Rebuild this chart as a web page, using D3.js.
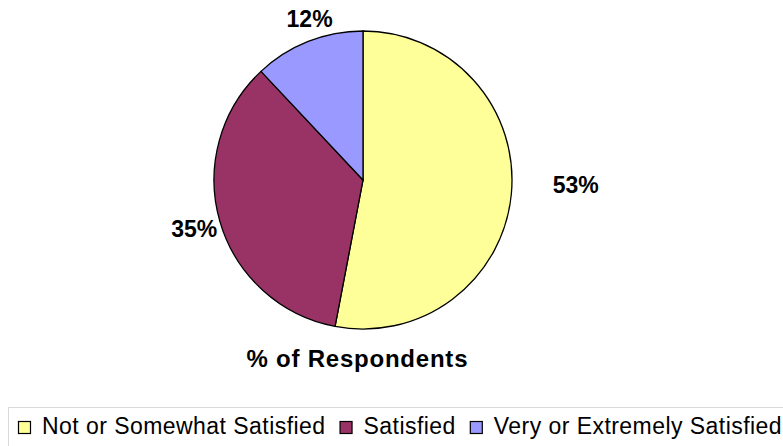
<!DOCTYPE html>
<html>
<head>
<meta charset="utf-8">
<script src="https://cdn.jsdelivr.net/npm/d3@7"></script>
<style>
  body { margin: 0; background: #fff; }
  svg { display: block; font-family: "Liberation Sans", Arial, sans-serif; }
</style>
</head>
<body>
<div id="chart"></div>
<script>
// Data
const categories = ['Not or Somewhat Satisfied', 'Satisfied', 'Very or Extremely Satisfied'];
const shares = [53, 35, 12];
const colors = ['#FFFF99', '#993366', '#9999FF'];
const chartTitle = '% of Respondents';

const width = 783;
const height = 446;
const cx = 363, cy = 180, radius = 149;

// where the value labels sit: radius factor + small nudge (Excel puts them where it likes)
const labelPlace = {
    'Not or Somewhat Satisfied': { k: 1.40, dx: 5, dy: -15 },
    'Satisfied': { k: 1.18, dx: 0, dy: 0 },
    'Very or Extremely Satisfied': { k: 1.12, dx: 8, dy: -6 }
};

const svg = d3.select('#chart')
    .append('svg')
    .attr('width', width)
    .attr('height', height);

const color = d3.scaleOrdinal().domain(categories).range(colors);

const pie = d3.pie()
    .sort(null)
    .value(d => d.value);

const data = categories.map((c, i) => ({ name: c, value: shares[i] }));
const arcs = pie(data);

const arc = d3.arc().innerRadius(0).outerRadius(radius);

const g = svg.append('g').attr('transform', `translate(${cx},${cy})`);

g.selectAll('path.slice')
    .data(arcs)
    .enter()
    .append('path')
    .attr('class', 'slice')
    .attr('d', arc)
    .attr('fill', d => color(d.data.name))
    .attr('stroke', '#000')
    .attr('stroke-width', 1.3);

// value labels outside the pie
g.selectAll('text.val')
    .data(arcs)
    .enter()
    .append('text')
    .attr('class', 'val')
    .attr('transform', d => {
        const a = (d.startAngle + d.endAngle) / 2;
        const p = labelPlace[d.data.name];
        const r = radius * p.k;
        return `translate(${Math.sin(a) * r + p.dx},${-Math.cos(a) * r + p.dy})`;
    })
    .attr('text-anchor', 'middle')
    .attr('dy', '0.35em')
    .style('font-size', '23px')
    .style('font-weight', 'bold')
    .text(d => d.value + '%');

// title under the pie
svg.append('text')
    .attr('x', 357)
    .attr('y', 367)
    .attr('text-anchor', 'middle')
    .attr('textLength', 221)
    .attr('lengthAdjust', 'spacing')
    .style('font-size', '24px')
    .style('font-weight', 'bold')
    .text(chartTitle);

// legend, boxed, running off the right/bottom edge
svg.append('rect')
    .attr('x', 8.5)
    .attr('y', 407.5)
    .attr('width', 800)
    .attr('height', 60)
    .attr('fill', 'none')
    .attr('stroke', '#d9d9d9');

const legend = svg.append('g').attr('class', 'legend');
let lx = 18;
categories.forEach(c => {
    legend.append('rect')
        .attr('x', lx + 0.5)
        .attr('y', 421.5)
        .attr('width', 12)
        .attr('height', 12)
        .attr('fill', color(c))
        .attr('stroke', '#000')
        .attr('stroke-width', 1.2);
    const t = legend.append('text')
        .attr('x', lx + 24)
        .attr('y', 434)
        .style('font-size', '23px')
        .style('letter-spacing', '0.45px')
        .text(c);
    lx += 24 + t.node().getComputedTextLength() + 14;
});
</script>
</body>
</html>
